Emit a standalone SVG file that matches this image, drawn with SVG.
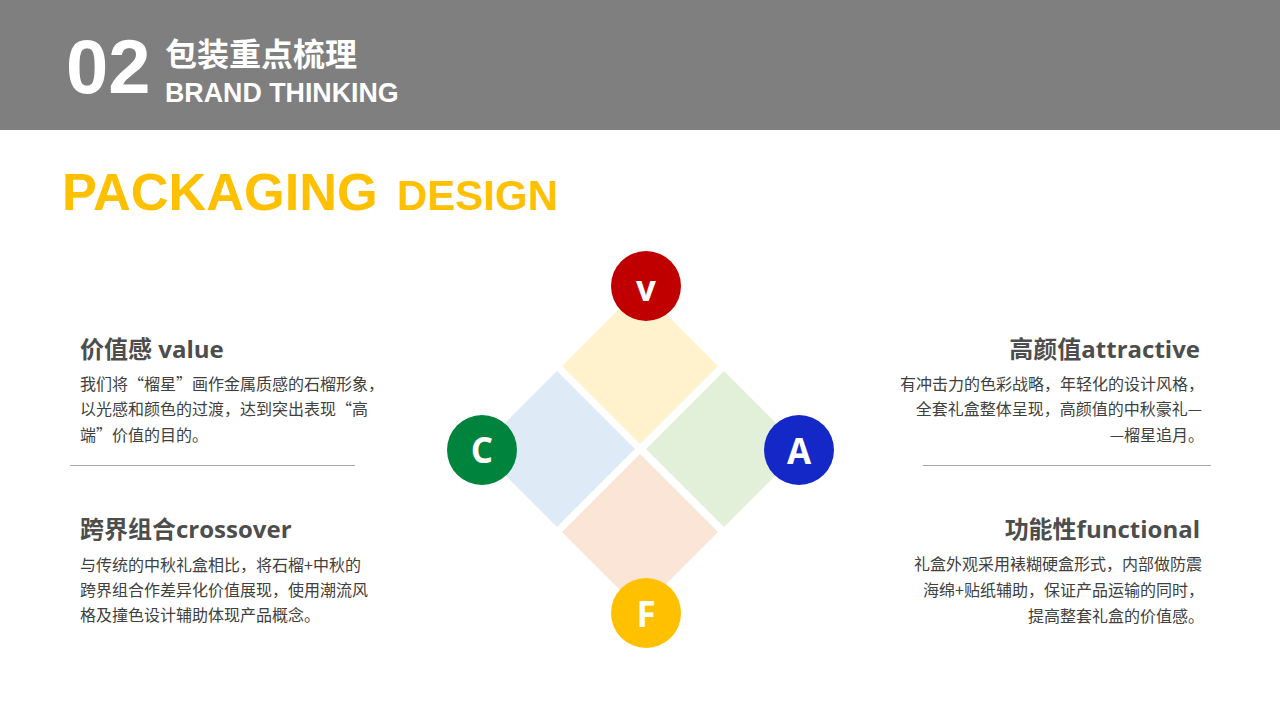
<svg xmlns="http://www.w3.org/2000/svg" width="1280" height="720" viewBox="0 0 1280 720">
<style>
.hd{font-family:"Liberation Sans","Noto Sans CJK SC",sans-serif;font-weight:bold;fill:#FFFFFF}
.big{font-family:"Liberation Sans",Arial,sans-serif;font-weight:bold;fill:#FFC000}
.ttl{font-family:"Open Sans","Noto Sans CJK SC",sans-serif;font-weight:bold;font-size:24px;fill:#4D4D4D}
.body{font-family:"Noto Sans CJK SC","Noto Sans",sans-serif;font-size:16px;fill:#404040}
.r{text-anchor:end}
.let{font-family:"Open Sans","Noto Sans",sans-serif;font-weight:bold;font-size:35px;fill:#FFFFFF;text-anchor:middle}
.sep{stroke:#A6A6A6;stroke-width:1}
</style>
<rect x="0" y="0" width="1280" height="130" fill="#7F7F7F"/>
<g id="header">
<text class="hd" x="66" y="93" font-size="76">02</text>
<text class="hd" x="165" y="66" font-size="32">包装重点梳理</text>
<text class="hd" x="165" y="102" font-size="26.8">BRAND THINKING</text>
</g>
<g id="title">
<text class="big" x="62" y="210" font-size="52.3">PACKAGING</text>
<text class="big" x="397" y="210" font-size="42">DESIGN</text>
</g>
<g id="diamond-value"><polygon points="640,288 718,366 640,444 562,366" fill="#FFF2CC"/></g>
<g id="diamond-crossover"><polygon points="557,371 635,449 557,527 479,449" fill="#DEEBF7"/></g>
<g id="diamond-attractive"><polygon points="724,371 802,449 724,527 646,449" fill="#E2F0D9"/></g>
<g id="diamond-functional"><polygon points="640,454 718,532 640,610 562,532" fill="#FBE5D6"/></g>
<g id="connectors"></g>
<g id="node-v"><circle cx="646" cy="286" r="35" fill="#C00000"/><text class="let" x="646" y="301" font-size="40">v</text></g>
<g id="node-c"><circle cx="482" cy="450" r="35" fill="#00843D"/><text class="let" x="482" y="463">C</text></g>
<g id="node-a"><circle cx="799" cy="450" r="35" fill="#1428C8"/><text class="let" x="799" y="464">A</text></g>
<g id="node-f"><circle cx="646" cy="613" r="35" fill="#FFC000"/><text class="let" x="646" y="627">F</text></g>
<g id="text-value">
<text class="ttl" x="80" y="358">价值感 value</text>
<text class="body" x="80" y="390">我们将“榴星”画作金属质感的石榴形象，</text>
<text class="body" x="80" y="415">以光感和颜色的过渡，达到突出表现“高</text>
<text class="body" x="80" y="441">端”价值的目的。</text>
</g>
<line class="sep" x1="70" y1="465.5" x2="355" y2="465.5"/>
<g id="text-crossover">
<text class="ttl" x="80" y="538">跨界组合crossover</text>
<text class="body" x="80" y="571">与传统的中秋礼盒相比，将石榴+中秋的</text>
<text class="body" x="80" y="596">跨界组合作差异化价值展现，使用潮流风</text>
<text class="body" x="80" y="621">格及撞色设计辅助体现产品概念。</text>
</g>
<g id="text-attractive">
<text class="ttl r" x="1200" y="358">高颜值attractive</text>
<text class="body r" x="1204" y="390">有冲击力的色彩战略，年轻化的设计风格，</text>
<text class="body r" x="1202" y="415">全套礼盒整体呈现，高颜值的中秋豪礼—</text>
<text class="body r" x="1204" y="441">—榴星追月。</text>
</g>
<line class="sep" x1="923" y1="465.5" x2="1211" y2="465.5"/>
<g id="text-functional">
<text class="ttl r" x="1200" y="538">功能性functional</text>
<text class="body r" x="1202" y="570">礼盒外观采用裱糊硬盒形式，内部做防震</text>
<text class="body r" x="1204" y="596">海绵+贴纸辅助，保证产品运输的同时，</text>
<text class="body r" x="1204" y="622">提高整套礼盒的价值感。</text>
</g>
</svg>
